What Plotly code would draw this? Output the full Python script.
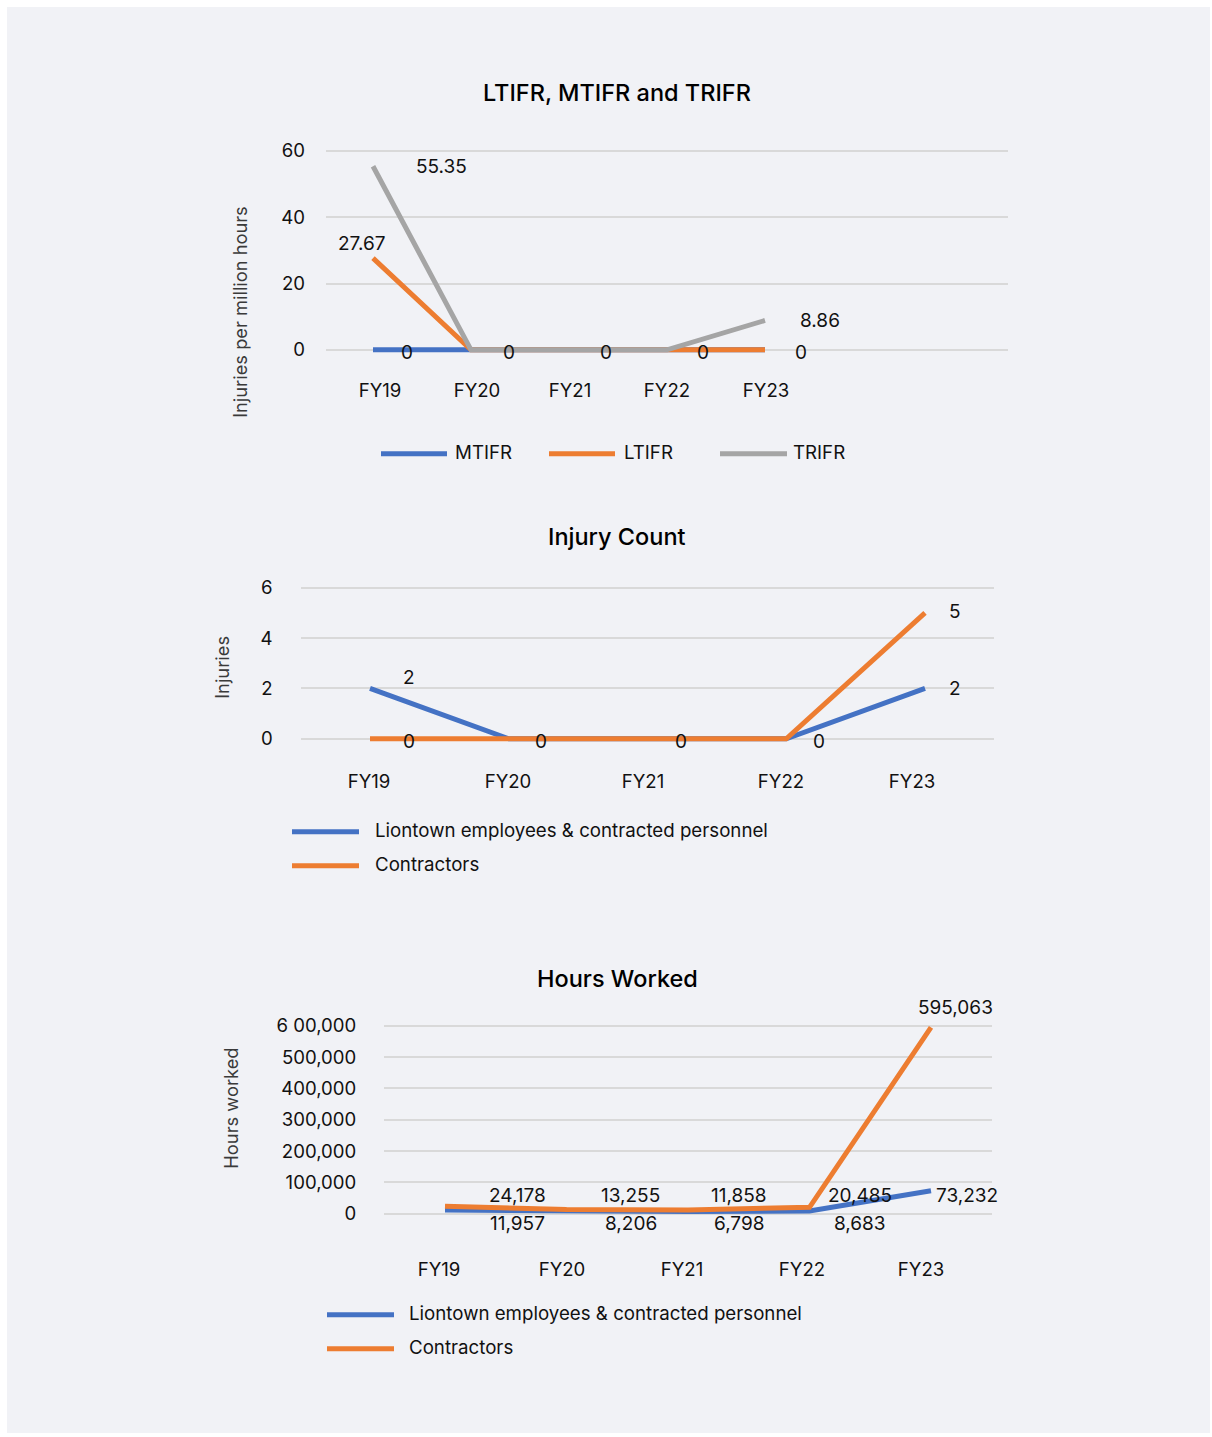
import plotly.graph_objects as go

W, H = 1212, 1437

# ---------------- data ----------------
categories = ["FY19", "FY20", "FY21", "FY22", "FY23"]

# Chart 1: LTIFR, MTIFR and TRIFR (injuries per million hours)
mtifr = [0, 0, 0, 0, 0]
ltifr = [27.67, 0, 0, 0, 0]
trifr = [55.35, 0, 0, 0, 8.86]
rate_ticks = [0, 20, 40, 60]

# Chart 2: Injury count
inj_employees = [2, 0, 0, 0, 2]
inj_contractors = [0, 0, 0, 0, 5]
inj_ticks = [0, 2, 4, 6]

# Chart 3: Hours worked
hrs_employees = [11957, 8206, 6798, 8683, 73232]
hrs_contractors = [24178, 13255, 11858, 20485, 595063]
hrs_ticks = [0, 100000, 200000, 300000, 400000, 500000, 600000]
hrs_ticktext = ["0", "100,000", "200,000", "300,000", "400,000", "500,000", "6 00,000"]

# ---------------- styles ----------------
BLUE = "#4472c4"
ORANGE = "#ed7d31"
GREY = "#a5a5a5"
BG = "#f1f2f6"
GRID = "#d9d9d9"
TXT = "#111111"
FONT = "Inter"
LW = 5

# small vertical compensation for the page capture
VOFF, VSC = 6.1, 0.9925


def V(py):
    return (py - VOFF) / VSC


def xp(px):
    return px / W


def yp(py):
    return 1 - V(py) / H


def dom_y(v0, p0, v1, p1, lo, hi):
    q0, q1 = V(p0), V(p1)
    unit = (q0 - q1) / (v1 - v0)
    pl = q0 + (v0 - lo) * unit
    ph = q0 - (hi - v0) * unit
    return [1 - pl / H, 1 - ph / H]


def dom_x(p0, p4, lo, hi):
    unit = (p4 - p0) / 4.0
    return [xp(p0 + lo * unit), xp(p0 + hi * unit)]


def tick_pos(p0, p4, label_px):
    unit = (p4 - p0) / 4.0
    return [(p - p0) / unit for p in label_px]


x_idx = list(range(len(categories)))

fig = go.Figure()


def add_line(y, color, xa, ya, name):
    fig.add_trace(go.Scatter(x=x_idx, y=y, mode="lines", name=name,
                             line=dict(color=color, width=LW),
                             xaxis=xa, yaxis=ya, showlegend=False,
                             hoverinfo="skip"))


add_line(mtifr, BLUE, "x", "y", "MTIFR")
add_line(ltifr, ORANGE, "x", "y", "LTIFR")
add_line(trifr, GREY, "x", "y", "TRIFR")

add_line(inj_employees, BLUE, "x2", "y2", "Liontown employees & contracted personnel")
add_line(inj_contractors, ORANGE, "x2", "y2", "Contractors")

add_line(hrs_employees, BLUE, "x3", "y3", "Liontown employees & contracted personnel")
add_line(hrs_contractors, ORANGE, "x3", "y3", "Contractors")

tickfont = dict(family=FONT, size=18.6, color=TXT)


def xaxis_cfg(domain, rng, tvals, standoff, anchor):
    return dict(domain=domain, range=rng, tickvals=tvals, ticktext=categories,
                showgrid=False, zeroline=False, showline=False, ticks="",
                tickfont=tickfont, ticklabelstandoff=standoff, anchor=anchor,
                fixedrange=True)


def yaxis_cfg(domain, rng, tickvals, ticktext, standoff, anchor):
    return dict(domain=domain, range=rng, tickvals=tickvals, ticktext=ticktext,
                showgrid=True, gridcolor=GRID, gridwidth=2, zeroline=False,
                showline=False, ticks="", tickfont=tickfont,
                ticklabelstandoff=standoff, anchor=anchor, fixedrange=True)


# chart 1 geometry
r1 = [-6, 62]
y1dom = dom_y(0, 349, 60, 150, r1[0], r1[1])
x1r = [-0.48, 6.48]
x1dom = dom_x(373, 765, x1r[0], x1r[1])
x1t = tick_pos(373, 765, [380, 477, 570, 667, 766])
# chart 2 geometry
r2 = [-0.6, 6.25]
y2dom = dom_y(0, 738, 6, 587, r2[0], r2[1])
x2r = [-0.5, 4.5]
x2dom = dom_x(370, 925, x2r[0], x2r[1])
x2t = tick_pos(370, 925, [369, 508, 643, 781, 912])
# chart 3 geometry
r3 = [-20000, 615000]
y3dom = dom_y(0, 1213, 600000, 1025, r3[0], r3[1])
x3r = [-0.5, 4.5]
x3dom = dom_x(445, 931, x3r[0], x3r[1])
x3t = tick_pos(445, 931, [439, 562, 682, 802, 921])

fig.update_layout(
    width=W, height=H,
    margin=dict(l=0, r=0, t=0, b=0),
    paper_bgcolor="white",
    plot_bgcolor="rgba(0,0,0,0)",
    showlegend=False,
    font=dict(family=FONT, color=TXT),
    xaxis=xaxis_cfg(x1dom, x1r, x1t, 8, "y"),
    yaxis=yaxis_cfg(y1dom, r1, rate_ticks, [str(v) for v in rate_ticks], 20, "x"),
    xaxis2=xaxis_cfg(x2dom, x2r, x2t, 15, "y2"),
    yaxis2=yaxis_cfg(y2dom, r2, inj_ticks, [str(v) for v in inj_ticks], 27, "x2"),
    xaxis3=xaxis_cfg(x3dom, x3r, x3t, 36, "y3"),
    yaxis3=yaxis_cfg(y3dom, r3, hrs_ticks, hrs_ticktext, 27, "x3"),
)

shapes = [dict(type="rect", xref="paper", yref="paper", x0=xp(7), x1=xp(1210),
               y0=max(0.0, yp(1435)), y1=min(1.0, yp(5)), fillcolor=BG,
               line=dict(width=0), layer="below")]
ann = []

# titles
for text, cx, cy in [("LTIFR, MTIFR and TRIFR", 617, 92),
                     ("Injury Count", 617, 536),
                     ("Hours Worked", 617, 978)]:
    ann.append(dict(text=text, xref="paper", yref="paper", x=xp(cx), y=yp(cy),
                    showarrow=False, xanchor="center", yanchor="middle",
                    font=dict(family=FONT, size=23.5, color="#000000", weight=500)))

# axis titles
for text, cx, cy in [("Injuries per million hours", 240, 311),
                     ("Injuries", 222, 667),
                     ("Hours worked", 231, 1108)]:
    ann.append(dict(text=text, xref="paper", yref="paper", x=xp(cx), y=yp(cy),
                    showarrow=False, textangle=-90, xanchor="center", yanchor="middle",
                    font=dict(family=FONT, size=18.3, color="#3a3a3a")))


# legends (drawn swatches + labels)
def legend_item(x0, x1, y, color, label, tx):
    shapes.append(dict(type="line", xref="paper", yref="paper", x0=xp(x0), x1=xp(x1),
                       y0=yp(y), y1=yp(y), line=dict(color=color, width=LW)))
    ann.append(dict(text=label, xref="paper", yref="paper", x=xp(tx), y=yp(y - 1),
                    showarrow=False, xanchor="left", yanchor="middle",
                    font=dict(family=FONT, size=18.7, color=TXT)))


legend_item(381, 447, 453, BLUE, "MTIFR", 453)
legend_item(549, 615, 453, ORANGE, "LTIFR", 622)
legend_item(720, 787, 453, GREY, "TRIFR", 791)

legend_item(292, 359, 831, BLUE, "Liontown employees & contracted personnel", 373)
legend_item(292, 359, 865, ORANGE, "Contractors", 373)

legend_item(327, 394, 1314, BLUE, "Liontown employees & contracted personnel", 407)
legend_item(327, 394, 1348, ORANGE, "Contractors", 407)

labfont = dict(family=FONT, size=19, color=TXT)


def fmt(v):
    if isinstance(v, float) and not v.is_integer():
        return f"{v:.2f}"
    return f"{int(v):,}"


def label(xa, ya, i, v, dx, dy):
    ann.append(dict(text=fmt(v), xref=xa, yref=ya, x=i, y=v, showarrow=False,
                    xanchor="center", yanchor="middle", xshift=dx, yshift=dy,
                    font=labfont))


# chart 1 labels
for i, v in enumerate(mtifr):
    label("x", "y", i, v, [34, 38, 37, 36, 36][i], -3)
label("x", "y", 0, ltifr[0], -11, 15)
label("x", "y", 0, trifr[0], 68, 0)
label("x", "y", 4, trifr[4], 55, 0)

# chart 2 labels
label("x2", "y2", 0, inj_employees[0], 39, 11)
for i in range(4):
    label("x2", "y2", i, inj_contractors[i], [39, 32, 33, 33][i], -3)
label("x2", "y2", 4, inj_contractors[4], 30, 1)
label("x2", "y2", 4, inj_employees[4], 30, 0)

# chart 3 labels
dxs = [72, 64, 51, 50]
dy_top = [10.4, 13.8, 14.3, 11.6]
dy_bot = [-13.7, -12.6, -12.1, -12.7]
for i in range(4):
    label("x3", "y3", i, hrs_contractors[i], dxs[i], dy_top[i])
    label("x3", "y3", i, hrs_employees[i], dxs[i], dy_bot[i])
label("x3", "y3", 4, hrs_contractors[4], 24, 20)
label("x3", "y3", 4, hrs_employees[4], 36, -5)

fig.update_layout(shapes=shapes, annotations=ann)

fig.write_html(
    "out.html",
    config={"displayModeBar": False},
    post_script="document.body.style.margin='0';document.body.style.padding='0';"
                "document.documentElement.style.margin='0';",
)
